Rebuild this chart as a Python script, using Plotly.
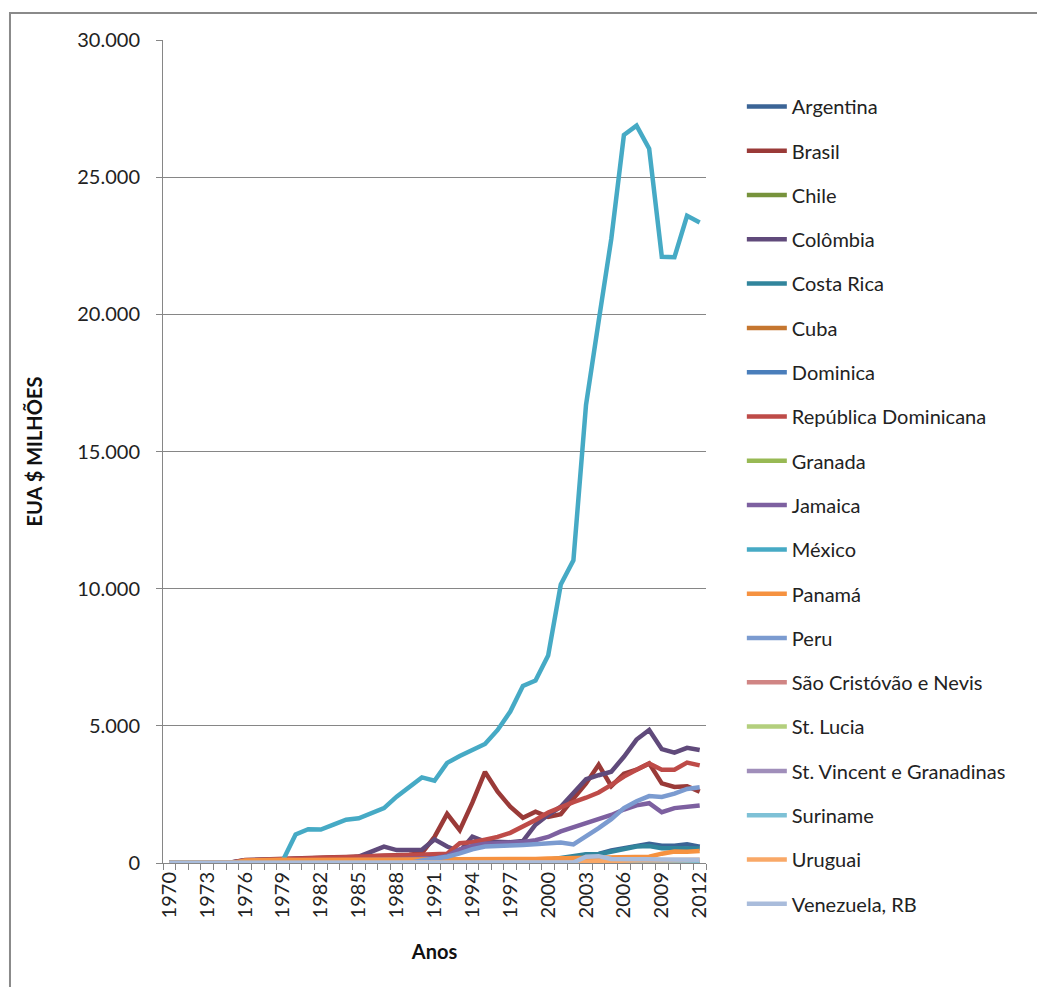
import plotly.graph_objects as go

years = list(range(1970, 2013))
tick_years = [1970, 1973, 1976, 1979, 1982, 1985, 1988, 1991, 1994, 1997, 2000, 2003, 2006, 2009, 2012]

countries = ["Argentina", "Brasil", "Chile", "Colômbia", "Costa Rica", "Cuba", "Dominica",
             "República Dominicana", "Granada", "Jamaica", "México", "Panamá", "Peru",
             "São Cristóvão e Nevis", "St. Lucia", "St. Vincent e Granadinas", "Suriname",
             "Uruguai", "Venezuela, RB"]

colors = ["#3B6496", "#9A3A38", "#77933C", "#604A7B", "#31859C", "#C5762F", "#4A7EBB",
          "#BE4B48", "#98B954", "#7D60A0", "#46AAC5", "#F69240", "#7B9BD0",
          "#D08584", "#B3CF7D", "#A08EBA", "#7EC1D6", "#F9A867", "#A9BCDB"]

argentina = [0, 0, 0, 0, 0, 0, 20, 25, 30, 30, 30, 30, 30, 30, 30, 30, 35, 40, 40, 45, 50,
             55, 60, 65, 70, 75, 80, 85, 85, 90, 90, 150, 200, 300, 330, 460, 540, 630, 700, 630, 630, 680, 590]
brasil = [0, 0, 0, 0, 0, 30, 110, 130, 150, 170, 180, 190, 200, 210, 220, 230, 240, 260, 280, 300, 360,
          950, 1790, 1200, 2200, 3320, 2600, 2050, 1650, 1870, 1680, 1780, 2350, 2900, 3580, 2800, 3250, 3400, 3630, 2900, 2770, 2800, 2600]
chile = [0, 0, 0, 0, 0, 0, 0, 0, 0, 0, 0, 0, 0, 0, 0, 0, 0, 0, 0, 0, 0,
         0, 0, 0, 0, 0, 0, 0, 0, 0, 10, 10, 10, 10, 10, 10, 10, 10, 10, 10, 10, 10, 10]
colombia = [0, 0, 0, 0, 0, 30, 100, 120, 140, 160, 150, 150, 150, 160, 180, 230, 420, 600, 470, 460, 480,
            860, 600, 420, 960, 780, 760, 760, 800, 1400, 1750, 2050, 2550, 3050, 3200, 3330, 3870, 4500, 4850, 4150, 4020, 4200, 4120]
costa_rica = [0, 0, 0, 0, 0, 0, 10, 10, 10, 10, 10, 10, 10, 10, 10, 10, 10, 10, 10, 10, 10,
              20, 30, 40, 50, 60, 70, 80, 90, 100, 120, 180, 250, 320, 320, 420, 510, 600, 620, 540, 540, 520, 530]
cuba = [0, 0, 0, 0, 0, 0, 0, 0, 0, 0, 0, 0, 0, 0, 0, 0, 0, 0, 0, 0, 0,
        0, 0, 0, 0, 0, 0, 0, 0, 0, 0, 0, 0, 0, 0, 0, 0, 0, 0, 0, 0, 0, 0]
dominica = [0, 0, 0, 0, 0, 0, 5, 5, 5, 5, 5, 5, 5, 5, 5, 5, 5, 5, 10, 10, 10,
            10, 10, 10, 10, 10, 10, 10, 10, 10, 10, 10, 20, 20, 20, 20, 20, 20, 20, 20, 20, 20, 20]
rep_dominicana = [0, 0, 0, 0, 0, 20, 90, 110, 130, 160, 180, 185, 190, 200, 210, 240, 240, 260, 270, 290, 310,
                  320, 340, 720, 760, 850, 950, 1100, 1330, 1570, 1840, 2050, 2220, 2380, 2570, 2850, 3150, 3400, 3630, 3400, 3400, 3660, 3560]
granada = [0, 0, 0, 0, 0, 0, 5, 5, 5, 5, 5, 5, 5, 5, 5, 5, 10, 10, 10, 10, 10,
           10, 10, 10, 10, 20, 20, 20, 20, 20, 20, 20, 20, 20, 20, 20, 30, 30, 30, 30, 30, 30, 30]
jamaica = [0, 0, 0, 0, 0, 10, 20, 30, 40, 50, 60, 70, 80, 90, 100, 110, 120, 130, 140, 140, 140,
           170, 260, 500, 620, 700, 720, 740, 770, 830, 950, 1150, 1300, 1430, 1600, 1750, 1950, 2100, 2180, 1850, 2000, 2050, 2100]
mexico = [0, 0, 0, 0, 0, 0, 0, 0, 0, 100, 1040, 1230, 1220, 1400, 1580, 1630, 1800, 2000, 2420, 2780, 3120,
          3000, 3650, 3900, 4120, 4340, 4850, 5520, 6450, 6650, 7560, 10150, 11030, 16700, 19750, 22750, 26540, 26880, 26040, 22100, 22080, 23590, 23350]
panama = [0, 0, 0, 0, 0, 0, 90, 110, 120, 120, 110, 110, 110, 110, 110, 110, 110, 110, 110, 110, 110,
          110, 110, 110, 120, 130, 130, 140, 150, 150, 160, 170, 180, 180, 190, 200, 210, 220, 230, 340, 420, 410, 440]
peru = [0, 0, 0, 0, 0, 0, 0, 0, 0, 0, 0, 0, 0, 0, 0, 0, 0, 0, 0, 0, 90,
        150, 230, 350, 500, 600, 600, 640, 660, 680, 720, 750, 680, 960, 1270, 1600, 2000, 2250, 2440, 2410, 2530, 2700, 2760]
sao_cristovao = [0, 0, 0, 0, 0, 0, 5, 5, 5, 5, 5, 5, 5, 5, 5, 5, 10, 10, 10, 10, 10,
                 10, 10, 10, 10, 20, 20, 20, 20, 20, 20, 30, 30, 30, 30, 30, 40, 40, 40, 40, 40, 40, 40]
st_lucia = [0, 0, 0, 0, 0, 0, 5, 5, 5, 5, 5, 5, 5, 5, 5, 5, 10, 10, 10, 10, 10,
            10, 10, 10, 10, 20, 20, 20, 20, 20, 20, 20, 20, 20, 20, 30, 30, 30, 30, 30, 30, 30, 30]
st_vincent = [0, 0, 0, 0, 0, 0, 5, 5, 5, 5, 5, 5, 5, 5, 5, 5, 10, 10, 10, 10, 10,
              10, 10, 10, 10, 20, 20, 20, 20, 20, 20, 20, 20, 20, 20, 30, 30, 30, 30, 30, 30, 30, 30]
suriname = [0, 0, 0, 0, 0, 0, 0, 0, 0, 0, 0, 0, 0, 0, 0, 0, 0, 0, 0, 0, 0,
            0, 0, 0, 0, 0, 0, 0, 0, 0, 0, 0, 0, 10, 20, 5, 5, 5, 5, 5, 5, 5, 5]
uruguai = [0, 0, 0, 0, 0, 0, 0, 0, 0, 0, 0, 0, 0, 0, 0, 0, 0, 0, 0, 0, 0,
           0, 0, 0, 0, 0, 0, 0, 0, 0, 0, 0, 30, 50, 70, 90, 110, 120, 110, 100, 110, 120, 120]
venezuela = [0, 0, 0, 0, 0, 0, 0, 0, 0, 0, 0, 0, 0, 0, 0, 0, 0, 0, 0, 0, 10,
             10, 10, 10, 10, 20, 20, 20, 20, 20, 20, 20, 20, 230, 250, 150, 160, 150, 140, 130, 130, 130, 120]

series = [argentina, brasil, chile, colombia, costa_rica, cuba, dominica, rep_dominicana, granada,
          jamaica, mexico, panama, peru, sao_cristovao, st_lucia, st_vincent, suriname, uruguai, venezuela]

FONT = "Lato"
GRAY = "#868686"

fig = go.Figure()
for name, vals, col in zip(countries, series, colors):
    fig.add_trace(go.Scatter(x=years, y=vals, mode="lines", name=name, legendgroup=name,
                             line=dict(color=col, width=4.5)))

fig.update_layout(
    width=1037, height=987, autosize=False,
    margin=dict(l=163, r=331, t=40, b=124),
    paper_bgcolor="white", plot_bgcolor="white",
    separators=",.",
    font=dict(family=FONT, size=20, color="#222222"),
    showlegend=True,
    legend=dict(x=1.066, xanchor="left", y=0.943, yanchor="top", tracegroupgap=15.3,
                maxheight=987,
                font=dict(family=FONT, size=20, color="#222222"), bgcolor="rgba(0,0,0,0)",
                itemwidth=40),
    xaxis=dict(range=[1969.5, 2012.5], tickvals=tick_years, ticks="", tickangle=-90,
               showline=True, linecolor=GRAY, linewidth=1, showgrid=False, zeroline=False,
               minor=dict(ticks="outside", tick0=1969.5, dtick=1, ticklen=6, tickcolor=GRAY, showgrid=False),
               tickfont=dict(family=FONT, size=20, color="#222222"),
               title=dict(text="<b>Anos</b>", font=dict(family=FONT, size=20, color="#111111"), standoff=27)),
    yaxis=dict(range=[0, 30000], dtick=5000, tickformat=",d", showgrid=True, gridcolor=GRAY, gridwidth=1,
               showline=True, linecolor=GRAY, linewidth=1, zeroline=False,
               ticks="outside", ticklen=6, tickcolor=GRAY, ticklabelstandoff=12,
               tickfont=dict(family=FONT, size=20, color="#222222"),
               title=dict(text="<b>EUA $ MILHÕES</b>", font=dict(family=FONT, size=20, color="#111111"), standoff=29)),
    shapes=[dict(type="rect", xref="paper", yref="paper", x0=-0.2818, x1=1.8, y0=-0.4, y1=1.0328,
                 line=dict(color="#8a8a8a", width=2), fillcolor="rgba(0,0,0,0)", layer="below")],
)

fig.write_html("out.html")
